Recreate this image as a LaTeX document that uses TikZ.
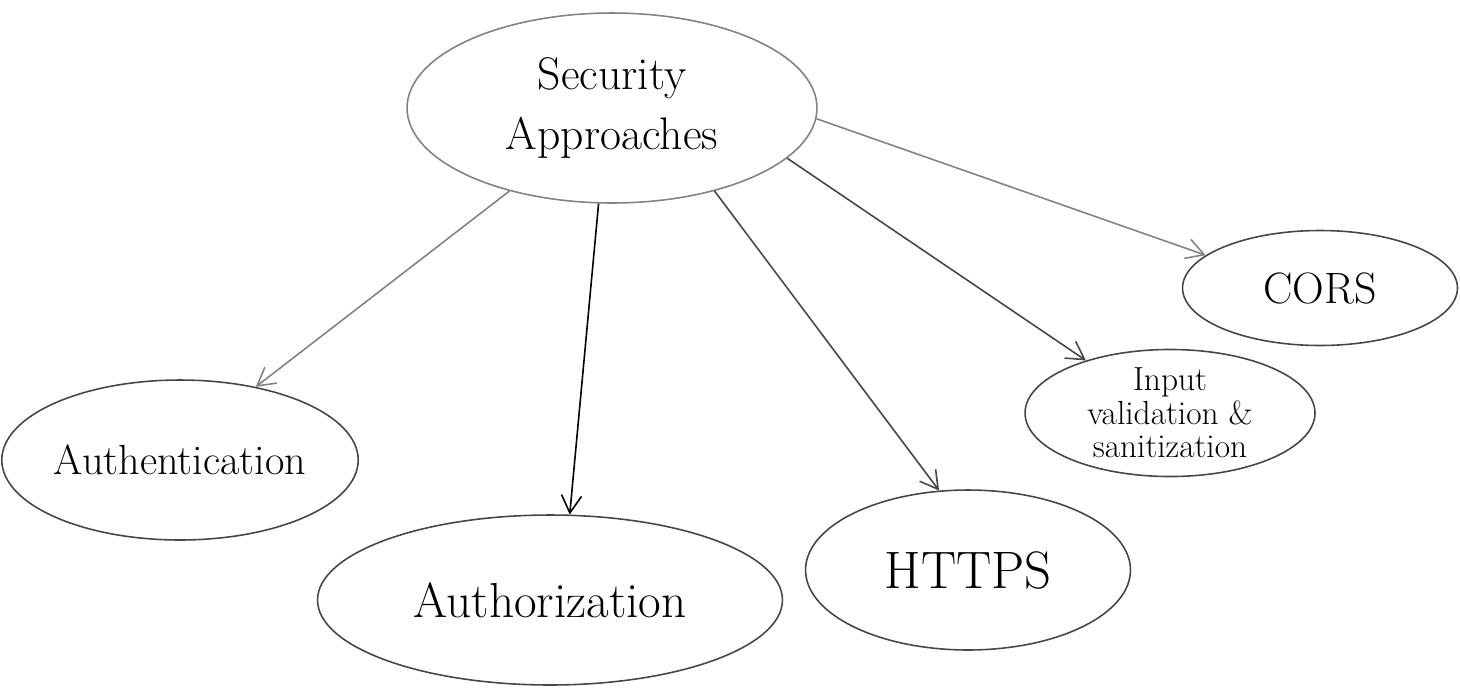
\documentclass[tikz,border=0pt]{standalone}
\usepackage{tikz}
\usetikzlibrary{shapes.geometric,arrows.meta}
\definecolor{inkgray}{RGB}{70,70,70}
\definecolor{penlight}{RGB}{130,130,130}

\begin{document}
\begin{tikzpicture}[
  x=0.02cm, y=-0.02cm,
  bub/.style={draw=inkgray, ellipse, inner sep=0pt, line width=0.9pt,
    font=\fontsize{24}{28}\selectfont, align=center},
  arr/.style={-{Straight Barb[length=0.35cm,width=0.4cm]}, line width=0.9pt, inkgray}
]

\useasboundingbox (0,0) rectangle (1460,687);

\node[bub, draw=penlight, minimum width=8.2cm, minimum height=3.8cm, font=\fontsize{26}{34}\selectfont] (sec) at (612,108) {Security\\Approaches};

\node[bub, minimum width=7cm, minimum height=3.2cm] (authn) at (180,460) {Authentication};
\node[bub, minimum width=9.3cm, minimum height=3.4cm, font=\fontsize{28}{32}\selectfont] (authz) at (550,600) {Authorization};
\node[bub, minimum width=6.5cm, minimum height=3.2cm, font=\fontsize{30}{34}\selectfont] (https) at (968,570) {HTTPS};
\node[bub, minimum width=5.8cm, minimum height=2.2cm, font=\fontsize{19}{19}\selectfont] (input) at (1170,413) {Input\\validation \&\\sanitization};
\node[bub, minimum width=5.5cm, minimum height=2.3cm, font=\fontsize{25}{28}\selectfont] (cors) at (1320,288) {CORS};

\draw[arr, penlight] (sec.-141) -- (authn.44);
\draw[arr, black] (sec.-98) -- (authz.77);
\draw[arr] (sec.-39) -- (https.110);
\draw[arr] (sec.-16) -- (input.148);
\draw[arr, penlight] (sec.-3) -- (cors.164);

\end{tikzpicture}
\end{document}
